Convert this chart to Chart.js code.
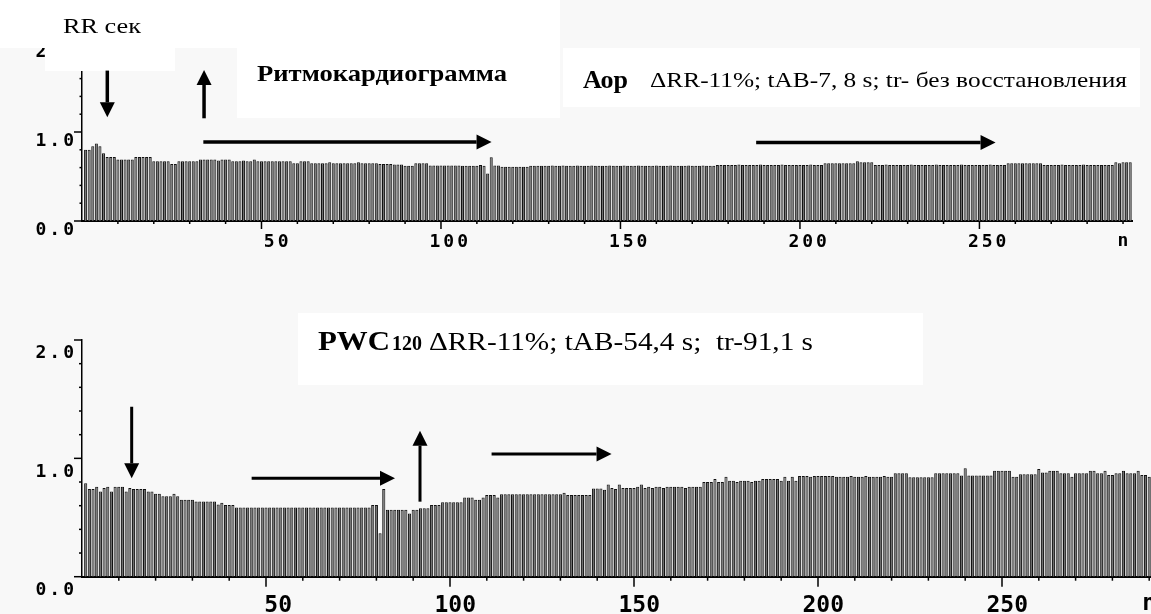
<!DOCTYPE html>
<html>
<head>
<meta charset="utf-8">
<script src="https://cdn.jsdelivr.net/npm/chart.js@4.4.1/dist/chart.umd.min.js"></script>
<style>
  html, body { margin: 0; padding: 0; background: #f8f8f8; overflow: hidden; width: 1151px; height: 614px; }
  canvas { position: absolute; left: 0; }
  #topChart { top: 0; }
  #bottomChart { top: 280px; }
</style>
</head>
<body>
<canvas id="topChart" width="1151" height="260"></canvas>
<canvas id="bottomChart" width="1180" height="334"></canvas>
<script>
// RR intervals (s), beat by beat, n = 1..292
const aorRR = [
  0.80, 0.80, 0.84, 0.87, 0.84, 0.76, 0.72, 0.72, 0.72, 0.69,
  0.69, 0.69, 0.69, 0.69, 0.72, 0.72, 0.72, 0.72, 0.72, 0.67,
  0.67, 0.67, 0.67, 0.67, 0.64, 0.64, 0.67, 0.67, 0.67, 0.67,
  0.67, 0.67, 0.69, 0.69, 0.69, 0.69, 0.69, 0.68, 0.69, 0.69,
  0.69, 0.67, 0.67, 0.67, 0.68, 0.67, 0.67, 0.69, 0.67, 0.67,
  0.67, 0.67, 0.67, 0.67, 0.67, 0.67, 0.67, 0.67, 0.65, 0.65,
  0.67, 0.67, 0.67, 0.65, 0.65, 0.65, 0.65, 0.65, 0.66, 0.65,
  0.65, 0.65, 0.65, 0.65, 0.65, 0.65, 0.66, 0.65, 0.65, 0.65,
  0.65, 0.65, 0.64, 0.64, 0.64, 0.64, 0.635, 0.635, 0.635, 0.62,
  0.62, 0.62, 0.65, 0.65, 0.65, 0.65, 0.625, 0.625, 0.625, 0.625,
  0.625, 0.625, 0.625, 0.625, 0.625, 0.62, 0.62, 0.62, 0.62, 0.62,
  0.63, 0.62, 0.535, 0.715, 0.625, 0.625, 0.61, 0.61, 0.61, 0.61,
  0.61, 0.61, 0.61, 0.61, 0.62, 0.62, 0.62, 0.62, 0.62, 0.62,
  0.625, 0.62, 0.62, 0.625, 0.62, 0.62, 0.62, 0.625, 0.62, 0.62,
  0.62, 0.625, 0.62, 0.62, 0.62, 0.62, 0.625, 0.62, 0.62, 0.62,
  0.625, 0.62, 0.62, 0.62, 0.625, 0.62, 0.62, 0.62, 0.62, 0.625,
  0.62, 0.62, 0.62, 0.625, 0.62, 0.62, 0.62, 0.62, 0.625, 0.62,
  0.62, 0.62, 0.625, 0.62, 0.62, 0.62, 0.63, 0.63, 0.63, 0.63,
  0.63, 0.63, 0.635, 0.63, 0.63, 0.63, 0.63, 0.63, 0.635, 0.63,
  0.63, 0.63, 0.63, 0.63, 0.635, 0.63, 0.63, 0.63, 0.63, 0.63,
  0.63, 0.63, 0.635, 0.63, 0.63, 0.63, 0.65, 0.65, 0.65, 0.65,
  0.65, 0.65, 0.65, 0.65, 0.65, 0.67, 0.66, 0.66, 0.66, 0.66,
  0.63, 0.63, 0.63, 0.635, 0.63, 0.63, 0.63, 0.63, 0.63, 0.63,
  0.635, 0.63, 0.63, 0.63, 0.63, 0.63, 0.63, 0.635, 0.63, 0.63,
  0.63, 0.63, 0.63, 0.63, 0.635, 0.63, 0.63, 0.63, 0.63, 0.63,
  0.63, 0.63, 0.635, 0.63, 0.63, 0.63, 0.63, 0.65, 0.65, 0.65,
  0.65, 0.65, 0.65, 0.65, 0.65, 0.65, 0.65, 0.63, 0.63, 0.63,
  0.63, 0.63, 0.635, 0.63, 0.63, 0.63, 0.63, 0.63, 0.635, 0.63,
  0.63, 0.63, 0.63, 0.63, 0.63, 0.63, 0.63, 0.66, 0.65, 0.66,
  0.66, 0.66
];

const pwcRR = [
  0.79, 0.74, 0.74, 0.76, 0.72, 0.75, 0.76, 0.72, 0.76, 0.76,
  0.76, 0.72, 0.75, 0.74, 0.74, 0.74, 0.74, 0.72, 0.72, 0.70,
  0.70, 0.68, 0.68, 0.68, 0.70, 0.68, 0.65, 0.65, 0.65, 0.65,
  0.635, 0.635, 0.635, 0.635, 0.635, 0.635, 0.61, 0.625, 0.605, 0.605,
  0.605, 0.585, 0.585, 0.585, 0.585, 0.585, 0.585, 0.585, 0.585, 0.585,
  0.585, 0.585, 0.585, 0.585, 0.585, 0.585, 0.585, 0.585, 0.585, 0.585,
  0.585, 0.585, 0.585, 0.585, 0.585, 0.585, 0.585, 0.585, 0.585, 0.585,
  0.585, 0.585, 0.585, 0.585, 0.585, 0.585, 0.585, 0.585, 0.605, 0.605,
  0.367, 0.74, 0.565, 0.565, 0.565, 0.565, 0.565, 0.565, 0.535, 0.565,
  0.565, 0.578, 0.578, 0.578, 0.605, 0.605, 0.605, 0.63, 0.63, 0.63,
  0.63, 0.63, 0.63, 0.67, 0.67, 0.67, 0.65, 0.65, 0.67, 0.69,
  0.69, 0.69, 0.67, 0.697, 0.697, 0.697, 0.697, 0.697, 0.697, 0.697,
  0.697, 0.697, 0.697, 0.697, 0.697, 0.697, 0.697, 0.697, 0.697, 0.697,
  0.71, 0.69, 0.69, 0.69, 0.69, 0.69, 0.69, 0.69, 0.745, 0.745,
  0.745, 0.735, 0.78, 0.75, 0.74, 0.78, 0.75, 0.75, 0.75, 0.75,
  0.76, 0.78, 0.75, 0.76, 0.75, 0.76, 0.76, 0.75, 0.76, 0.76,
  0.76, 0.76, 0.76, 0.75, 0.76, 0.76, 0.76, 0.76, 0.80, 0.80,
  0.80, 0.826, 0.80, 0.80, 0.845, 0.81, 0.81, 0.80, 0.81, 0.81,
  0.81, 0.80, 0.81, 0.81, 0.826, 0.826, 0.826, 0.826, 0.826, 0.81,
  0.845, 0.81, 0.845, 0.81, 0.85, 0.85, 0.85, 0.845, 0.85, 0.85,
  0.85, 0.85, 0.85, 0.85, 0.845, 0.845, 0.845, 0.845, 0.85, 0.845,
  0.845, 0.845, 0.85, 0.845, 0.845, 0.845, 0.845, 0.85, 0.845, 0.845,
  0.874, 0.874, 0.874, 0.874, 0.84, 0.84, 0.84, 0.84, 0.84, 0.84,
  0.84, 0.875, 0.875, 0.875, 0.875, 0.875, 0.875, 0.875, 0.855, 0.916,
  0.855, 0.855, 0.855, 0.855, 0.855, 0.855, 0.855, 0.896, 0.896, 0.896,
  0.896, 0.896, 0.845, 0.845, 0.865, 0.865, 0.865, 0.865, 0.865, 0.91,
  0.88, 0.88, 0.896, 0.896, 0.896, 0.874, 0.874, 0.874, 0.845, 0.874,
  0.874, 0.874, 0.874, 0.896, 0.896, 0.874, 0.874, 0.896, 0.86, 0.86,
  0.874, 0.874, 0.896, 0.874, 0.874, 0.874, 0.896, 0.86, 0.86, 0.845,
  0.845, 0.86
];

const yTickValues = [0, 1, 2];
const yTickLabels = ['0.0', '1.0', '2.0'];
const xTickValues = [50, 100, 150, 200, 250, 290];
const xTickLabels = ['50', '100', '150', '200', '250', 'n'];

// arrows in data units: from (x0,y0) to tip (x1,y1)
const aorArrows = [
  { x0: 7.05, y0: 1.69, x1: 7.05, y1: 1.165 },
  { x0: 34, y0: 1.154, x1: 34, y1: 1.697 },
  { x0: 33.8, y0: 0.888, x1: 114.1, y1: 0.888 },
  { x0: 187.8, y0: 0.882, x1: 254.5, y1: 0.882 }
];
const pwcArrows = [
  { x0: 13.5, y0: 1.436, x1: 13.5, y1: 0.831 },
  { x0: 46.1, y0: 0.831, x1: 85.05, y1: 0.831 },
  { x0: 91.85, y0: 0.634, x1: 91.85, y1: 1.234 },
  { x0: 111.3, y0: 1.037, x1: 143.9, y1: 1.037 }
];

const monoFont = '"DejaVu Sans Mono", monospace';
const serif = '"Liberation Serif", "Times New Roman", serif';

// old DOS-style axes: ticks, labels, white note boxes, arrows and captions
const dosPlugin = {
  id: 'dos',
  afterDraw(chart, args, o) {
    const ctx = chart.ctx, xs = chart.scales.x, ys = chart.scales.y, a = chart.chartArea;
    ctx.save();
    ctx.strokeStyle = '#000';
    ctx.fillStyle = '#000';
    ctx.lineWidth = 1.5;

    for (let i = 0; i <= 10; i++) {
      const y = ys.getPixelForValue(i * 0.2);
      const len = i % 5 === 0 ? o.yMajor : o.yMinor;
      ctx.beginPath(); ctx.moveTo(a.left - len, y); ctx.lineTo(a.left, y); ctx.stroke();
    }
    for (let v = 10; v <= 290; v += 10) {
      const x = xs.getPixelForValue(v);
      const len = v % 50 === 0 ? o.xMajor : o.xMinor;
      ctx.beginPath(); ctx.moveTo(x, a.bottom); ctx.lineTo(x, a.bottom + len); ctx.stroke();
    }

    ctx.font = 'bold 18px ' + monoFont;
    ctx.letterSpacing = '3px';
    ctx.textAlign = 'right';
    ctx.textBaseline = 'alphabetic';
    yTickValues.forEach((v, i) => {
      ctx.fillText(yTickLabels[i], a.left - o.yMajor + 3, ys.getPixelForValue(v) + o.yLabelDy);
    });

    ctx.font = o.xFont;
    ctx.letterSpacing = o.xSpacing + 'px';
    xTickValues.forEach((v, i) => {
      const x = xs.getPixelForValue(v);
      if (xTickLabels[i] === 'n') {
        ctx.textAlign = 'center';
        ctx.fillText('n', x + o.xSpacing / 2, a.bottom + o.nDy);
      } else {
        ctx.textAlign = 'right';
        ctx.fillText(xTickLabels[i], x + o.xLabelRight + o.xSpacing, a.bottom + o.xLabelDy);
      }
    });
    ctx.letterSpacing = '0px';

    ctx.fillStyle = '#fff';
    o.boxes.forEach(b => ctx.fillRect(b[0], b[1], b[2], b[3]));

    ctx.fillStyle = '#000';
    o.arrows.forEach(ar => {
      const x0 = xs.getPixelForValue(ar.x0), y0 = ys.getPixelForValue(ar.y0);
      const x1 = xs.getPixelForValue(ar.x1), y1 = ys.getPixelForValue(ar.y1);
      const ang = Math.atan2(y1 - y0, x1 - x0);
      const hl = 15, hw = 7.5;
      const bx = x1 - hl * Math.cos(ang), by = y1 - hl * Math.sin(ang);
      ctx.lineWidth = o.shaft;
      ctx.beginPath(); ctx.moveTo(x0, y0); ctx.lineTo(bx, by); ctx.stroke();
      ctx.beginPath();
      ctx.moveTo(x1, y1);
      ctx.lineTo(bx + hw * Math.sin(ang), by - hw * Math.cos(ang));
      ctx.lineTo(bx - hw * Math.sin(ang), by + hw * Math.cos(ang));
      ctx.closePath(); ctx.fill();
    });

    ctx.textAlign = 'left';
    o.texts.forEach(t => {
      ctx.font = t.font;
      const w = ctx.measureText(t.text).width;
      ctx.save();
      ctx.translate(t.x0, t.y);
      ctx.scale((t.x1 - t.x0) / w, 1);
      ctx.fillText(t.text, 0, 0);
      ctx.restore();
    });
    ctx.restore();
  }
};

function makeChart(id, values, pad, dos) {
  return new Chart(document.getElementById(id), {
    type: 'bar',
    data: {
      datasets: [{
        data: values.map((v, i) => ({ x: i + 1, y: v })),
        backgroundColor: '#6e6e6e',
        borderColor: '#111',
        borderWidth: 1,
        barPercentage: 0.85,
        categoryPercentage: 1.0
      }]
    },
    options: {
      responsive: false,
      animation: false,
      layout: { padding: pad },
      scales: {
        x: {
          type: 'linear', min: 0, max: 292.5, offset: false,
          grid: { display: false, drawTicks: false, offset: false },
          border: { display: true, color: '#000', width: 2 },
          ticks: { display: false },
          afterFit(s) { s.height = 30; }
        },
        y: {
          min: 0, max: 2,
          grid: { display: false, drawTicks: false },
          border: { display: true, color: '#000', width: 1.5 },
          ticks: { display: false },
          afterFit(s) { s.width = 82; }
        }
      },
      plugins: {
        legend: { display: false },
        tooltip: { enabled: false },
        dos: dos
      }
    },
    plugins: [dosPlugin]
  });
}

makeChart('topChart', aorRR, { top: 43, bottom: 9, left: 0, right: 19 }, {
  yMajor: 8, yMinor: 2.5, xMajor: 8, xMinor: 3,
  yLabelDy: 13.7, xLabelDy: 25.7, nDy: 25, xLabelRight: 27,
  xFont: 'bold 18px ' + monoFont, xSpacing: 3, shaft: 3.5,
  boxes: [[0, 0, 560, 48], [45, 48, 130, 23], [237, 0, 323, 118], [563, 48, 577, 59]],
  arrows: aorArrows,
  texts: [
    { text: 'RR сек', font: '20px ' + serif, x0: 63, x1: 141, y: 33 },
    { text: 'Ритмокардиограмма', font: 'bold 24px ' + serif, x0: 257, x1: 507, y: 81 },
    { text: 'Аор', font: 'bold 26px ' + serif, x0: 583, x1: 628, y: 88 },
    { text: 'ΔRR-11%; tAB-7, 8 s; tr- без восстановления', font: '22px ' + serif, x0: 650, x1: 1127, y: 87 }
  ]
});

makeChart('bottomChart', pwcRR, { top: 60, bottom: 7.3, left: 0, right: 21.6 }, {
  yMajor: 8, yMinor: 3, xMajor: 10, xMinor: 4,
  yLabelDy: 18.3, xLabelDy: 35, nDy: 33.5, xLabelRight: 26,
  xFont: 'bold 23px ' + monoFont, xSpacing: 0, shaft: 3,
  boxes: [[298, 33, 625, 72]],
  arrows: pwcArrows,
  texts: [
    { text: 'PWC', font: 'bold 27px ' + serif, x0: 318, x1: 390, y: 70 },
    { text: '120', font: 'bold 22px ' + serif, x0: 392, x1: 422, y: 70 },
    { text: 'ΔRR-11%; tAB-54,4 s;  tr-91,1 s', font: '26px ' + serif, x0: 429, x1: 813, y: 70 }
  ]
});
</script>
</body>
</html>
